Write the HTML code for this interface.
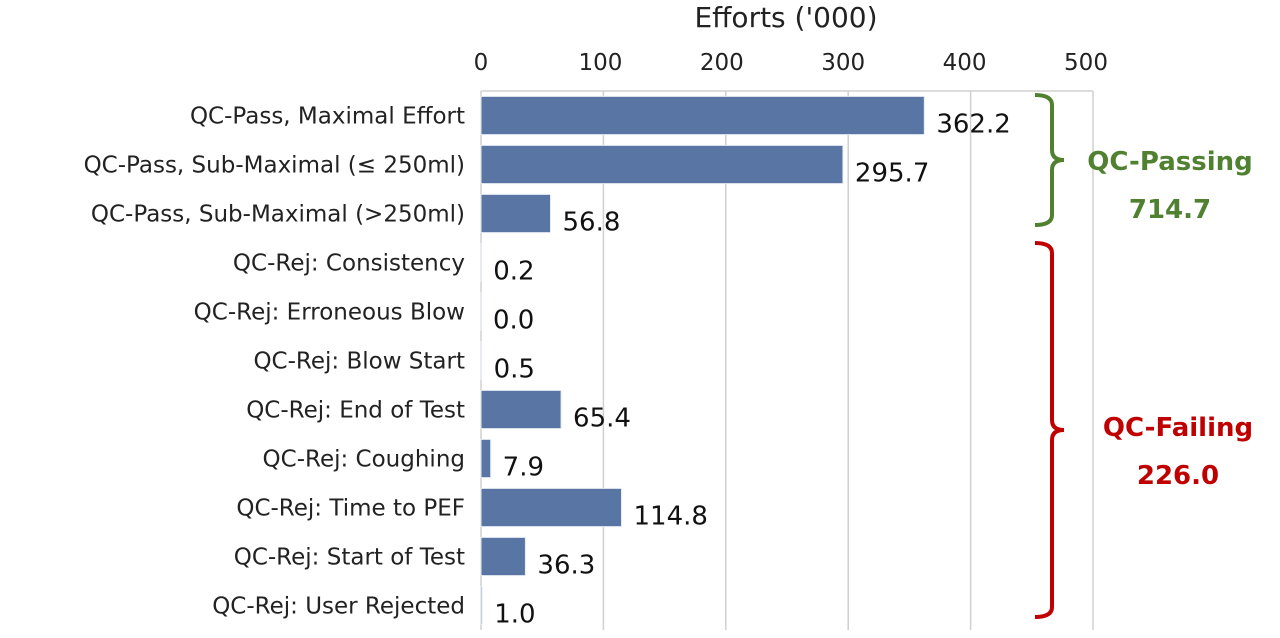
<!DOCTYPE html>
<html><head><meta charset="utf-8"><style>
body{margin:0;background:#fff;}
svg text{font-family:"DejaVu Sans","Liberation Sans",sans-serif;}
</style></head><body>
<svg id="chart" width="1280" height="633" xmlns="http://www.w3.org/2000/svg">
<g id="grid"></g><g id="bars"></g><g id="labels"></g>
<text x="786" y="27" font-size="28" text-anchor="middle" fill="#222">Efforts ('000)</text>
<path d="M1035,95 Q1052,95 1052,105 L1052,150 Q1052,160 1064,160 Q1052,160 1052,170 L1052,215 Q1052,225 1035,225" fill="none" stroke="#4f8131" stroke-width="4"/>
<text x="1170" y="170" font-size="26" font-weight="bold" text-anchor="middle" fill="#4f8131">QC-Passing</text>
<text x="1170" y="218" font-size="26" font-weight="bold" text-anchor="middle" fill="#4f8131">714.7</text>
<path d="M1035,243 Q1052,243 1052,253 L1052,420 Q1052,430 1064,430 Q1052,430 1052,440 L1052,607 Q1052,617 1035,617" fill="none" stroke="#c00000" stroke-width="4"/>
<text x="1178" y="436" font-size="26" font-weight="bold" text-anchor="middle" fill="#c00000">QC-Failing</text>
<text x="1178" y="484" font-size="26" font-weight="bold" text-anchor="middle" fill="#c00000">226.0</text>
</svg>
<script>
const categories=["QC-Pass, Maximal Effort","QC-Pass, Sub-Maximal (\u2264  250ml)","QC-Pass, Sub-Maximal (>250ml)","QC-Rej: Consistency","QC-Rej: Erroneous Blow","QC-Rej: Blow Start","QC-Rej: End of Test","QC-Rej: Coughing","QC-Rej: Time to PEF","QC-Rej: Start of Test","QC-Rej: User Rejected"];
const values=[362.2,295.7,56.8,0.2,0.0,0.5,65.4,7.9,114.8,36.3,1.0];
const ticks=[0,100,200,300,400,500];
const NS="http://www.w3.org/2000/svg";
const X0=481,X1=1093,Y0=91,Y1=630,XMAX=500;
const xs=v=>X0+v/XMAX*(X1-X0);
const band=(Y1-Y0)/categories.length;
const ys=i=>Y0+band*i;
function mk(t,a,p){const e=document.createElementNS(NS,t);for(const k in a)e.setAttribute(k,a[k]);document.getElementById(p).appendChild(e);return e;}
ticks.forEach((t,i)=>{
 const l=mk('line',{x1:xs(t),x2:xs(t),y1:Y0,y2:Y1,stroke:'#d0d0d0','stroke-width':1.5},'grid');
 
 
 const tx=mk('text',{x:xs(t)-(i?i+2:0),y:70,'font-size':23,'text-anchor':'middle',fill:'#222'},'grid');
 tx.textContent=t;
 
 
});
const topLine=mk('line',{x1:X0,x2:X1,y1:Y0,y2:Y0,stroke:'#d0d0d0','stroke-width':1.5},'grid');


categories.forEach((c,i)=>{
 const yc=ys(i)+band/2, h=band*0.78;
 const r=mk('rect',{x:X0,y:yc-h/2,width:Math.max(xs(values[i])-X0,0.3),height:h,fill:'#5875a4',stroke:'#e8ecf4','stroke-width':1},'bars');
 
 
 const v=mk('text',{x:xs(values[i])+12,y:yc+17,'font-size':26,fill:'#111'},'labels');
 v.textContent=values[i].toFixed(1);
 
 
 const lb=mk('text',{x:465,y:yc+8,'font-size':23,'text-anchor':'end',fill:'#222'},'labels');
 lb.textContent=c;
 
 
});
</script>
</body></html>
